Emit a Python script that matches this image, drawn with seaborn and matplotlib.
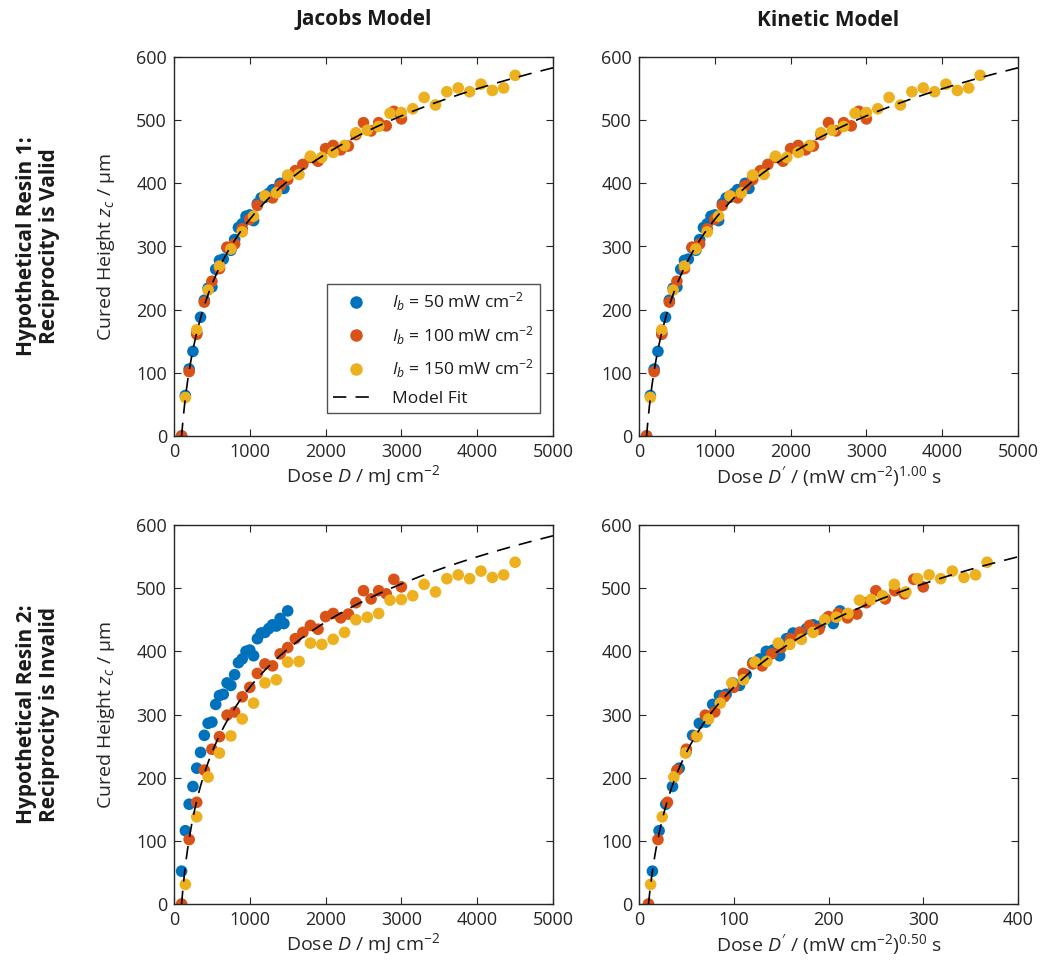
import numpy as np
import pandas as pd
import matplotlib
matplotlib.use("Agg")
import matplotlib.pyplot as plt
from matplotlib.lines import Line2D
import seaborn as sns

# ---------------------------------------------------------------- data
exposure_times = [1, 2, 3, 4, 5, 6, 7, 8, 9, 10, 11, 12, 13, 14, 15,
                  16, 17, 18, 19, 20, 21, 22, 23, 24, 25, 26, 27, 28, 29, 30]
intensities = [50, 100, 150]          # mW cm^-2
series_labels = [r"$I_b$ = 50 mW cm$^{-2}$",
                 r"$I_b$ = 100 mW cm$^{-2}$",
                 r"$I_b$ = 150 mW cm$^{-2}$"]
series_colors = ["#0072BD", "#D95319", "#EDB120"]

# the 50 mW cm^-2 series starts at t = 2 s
times_50 = exposure_times[1:]
times_100 = exposure_times
times_150 = exposure_times

# cured heights (um), resin 1 (reciprocity valid)
resin1_50 = [0, 64, 106, 134, 163, 188, 215, 234, 236, 264, 278, 280, 298, 294, 311,
             330, 336, 348, 350, 341, 368, 377, 378, 384, 390, 388, 400, 392, 412]
resin1_100 = [0, 102, 161, 212, 245, 265, 299, 304, 328, 343, 365, 380, 377, 396, 406,
              420, 430, 441, 435, 455, 460, 453, 459, 477, 496, 483, 496, 491, 514, 502]
resin1_150 = [61, 168, 231, 269, 296, 323, 348, 380, 385, 413, 414, 443, 441, 449, 460,
              480, 484, 490, 511, 512, 518, 536, 524, 545, 551, 545, 557, 547, 551, 571]

# cured heights (um), resin 2 (reciprocity invalid)
resin2_50 = [52, 116, 158, 186, 215, 240, 267, 286, 288, 316, 330, 332, 350, 346, 363,
             382, 388, 400, 402, 393, 420, 429, 430, 436, 442, 440, 452, 444, 464]
resin2_100 = [0, 102, 161, 212, 245, 265, 299, 304, 328, 343, 365, 380, 377, 396, 406,
              420, 430, 441, 435, 455, 460, 453, 459, 477, 496, 483, 496, 491, 514, 502]
resin2_150 = [31, 138, 201, 239, 266, 293, 318, 350, 355, 383, 384, 413, 411, 419, 430,
              450, 454, 460, 481, 482, 488, 506, 494, 515, 521, 515, 527, 517, 521, 541]

# model fit parameters: z = Dp * ln(dose / Ec)
penetration_depth = 149.0           # um
critical_dose_jacobs = 100.0        # mJ cm^-2
critical_dose_kinetic_100 = 100.0   # (mW cm^-2)^1.00 s
critical_dose_kinetic_050 = 10.0    # (mW cm^-2)^0.50 s


def build_frame(heights):
    rows = []
    for label, inten, times, zs in zip(series_labels, intensities,
                                       [times_50, times_100, times_150], heights):
        for t, z in zip(times, zs):
            rows.append({"series": label, "intensity": inten, "time": t, "height": z})
    return pd.DataFrame(rows)


resin1 = build_frame([resin1_50, resin1_100, resin1_150])
resin2 = build_frame([resin2_50, resin2_100, resin2_150])

# ---------------------------------------------------------------- style
sns.set_theme(style="ticks")
plt.rcParams["font.family"] = ["Open Sans", "DejaVu Sans"]
plt.rcParams.update({
    "mathtext.fontset": "custom",
    "mathtext.rm": "Open Sans",
    "mathtext.it": "Open Sans:italic",
    "mathtext.bf": "Open Sans:bold",
    "axes.edgecolor": "#262626",
    "text.color": "#1a1a1a",
})

fig = plt.figure(figsize=(10.44, 9.63), dpi=100)
W, H = 1044, 963


def add_axes(left, top, width=379, height=379):
    return fig.add_axes([left / W, (H - top - height) / H, width / W, height / H])


ax_tl = add_axes(174, 57)
ax_tr = add_axes(639, 57)
ax_bl = add_axes(174, 525)
ax_br = add_axes(639, 525)

panels = [
    (ax_tl, resin1, 1.00, critical_dose_jacobs, 5000, 1000,
     r"Dose $D$ / mJ cm$^{-2}$", True),
    (ax_tr, resin1, 1.00, critical_dose_kinetic_100, 5000, 1000,
     r"Dose $D'$ / (mW cm$^{-2}$)$^{1.00}$ s", False),
    (ax_bl, resin2, 1.00, critical_dose_jacobs, 5000, 1000,
     r"Dose $D$ / mJ cm$^{-2}$", True),
    (ax_br, resin2, 0.50, critical_dose_kinetic_050, 400, 100,
     r"Dose $D'$ / (mW cm$^{-2}$)$^{0.50}$ s", False),
]

for ax, df, exponent, ec, xmax, xstep, xlabel, show_ylabel in panels:
    df = df.copy()
    df["dose"] = df["intensity"] ** exponent * df["time"]
    sns.scatterplot(data=df, x="dose", y="height", hue="series",
                    hue_order=series_labels, palette=series_colors,
                    s=70, linewidth=0, alpha=1.0, legend=False, ax=ax, zorder=2)

    fit_x = np.geomspace(ec, xmax, 300)
    fit_z = penetration_depth * np.log(fit_x / ec)
    sns.lineplot(x=fit_x, y=fit_z, color="black", linewidth=1.2, ax=ax,
                 sort=False, estimator=None, zorder=3)
    ax.lines[-1].set_dashes((8, 5.5))

    ax.set_xlim(0, xmax)
    ax.set_ylim(0, 600)
    ax.set_xticks(np.arange(0, xmax + 1, xstep))
    ax.set_yticks(np.arange(0, 601, 100))
    ax.tick_params(direction="in", top=True, right=True, length=5, width=0.8,
                   labelsize=13, colors="#262626", pad=5)
    for sp in ax.spines.values():
        sp.set_visible(True)
        sp.set_linewidth(1.0)
        sp.set_color("#262626")
    ax.set_xlabel(xlabel, fontsize=14, labelpad=2)
    if show_ylabel:
        ax.set_ylabel(r"Cured Height $z_c$ / µm", fontsize=14, labelpad=14)
    else:
        ax.set_ylabel("")

# legend in the first panel
handles = [Line2D([], [], linestyle="none", marker="o", markersize=9,
                  markerfacecolor=c, markeredgewidth=0) for c in series_colors]
handles.append(Line2D([], [], color="black", linewidth=1.2, dashes=(8, 5.5)))
leg = ax_tl.legend(handles, series_labels + ["Model Fit"],
                   loc="lower right", bbox_to_anchor=(0.966, 0.061),
                   frameon=True, fancybox=False, edgecolor="#262626",
                   fontsize=12.5, handlelength=2.6, handletextpad=0.8,
                   labelspacing=0.62, borderpad=0.35, borderaxespad=0)
leg.get_frame().set_linewidth(1.0)

# column titles
fig.text(363.5 / W, 1 - 20 / H, "Jacobs Model", ha="center", va="center",
         fontsize=15, fontweight="bold")
fig.text(828.5 / W, 1 - 20 / H, "Kinetic Model", ha="center", va="center",
         fontsize=15, fontweight="bold")

# row titles
fig.text(38 / W, 1 - 246.5 / H, "Hypothetical Resin 1:\nReciprocity is Valid",
         ha="center", va="center", rotation=90, fontsize=15, fontweight="bold",
         linespacing=1.1)
fig.text(38 / W, 1 - 714.5 / H, "Hypothetical Resin 2:\nReciprocity is Invalid",
         ha="center", va="center", rotation=90, fontsize=15, fontweight="bold",
         linespacing=1.1)

fig.savefig("out.png", dpi=100)
